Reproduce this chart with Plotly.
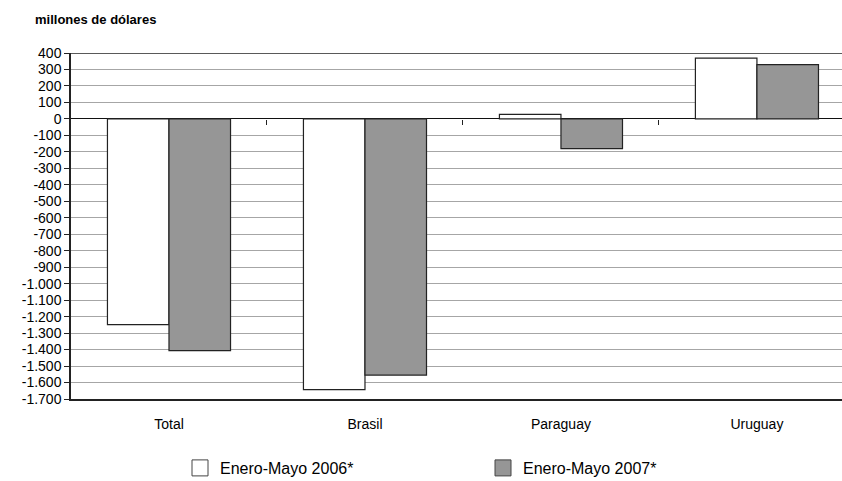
import plotly.graph_objects as go

categories = ["Total", "Brasil", "Paraguay", "Uruguay"]
serie_2006 = [-1248, -1643, 28, 369]
serie_2007 = [-1406, -1555, -180, 329]
series_names = ["Enero-Mayo 2006*", "Enero-Mayo 2007*"]
series_colors = ["#ffffff", "#969696"]
y_tickvals = list(range(400, -1701, -100))

def fmt(v):
    s = f"{abs(v):,}".replace(",", ".")
    return ("-" if v < 0 else "") + s

y_ticktext = [fmt(v) for v in y_tickvals]

FONT = "Liberation Sans, Arial, sans-serif"
EDGE = "#222222"

fig = go.Figure()
for vals, name, col in zip([serie_2006, serie_2007], series_names, series_colors):
    fig.add_trace(go.Bar(
        x=categories, y=vals, name=name, showlegend=False,
        marker=dict(color=col, line=dict(color=EDGE, width=1.2)),
    ))
# legend entries with large square swatches
for name, col in zip(series_names, series_colors):
    fig.add_trace(go.Scatter(
        x=[None], y=[None], mode="markers", name=name,
        marker=dict(symbol="square", size=22, color=col,
                    line=dict(color="#444444", width=1)),
    ))
# invisible helper trace for x-axis ticks on the zero line
fig.add_trace(go.Scatter(x=categories, y=[None] * 4, xaxis="x2", showlegend=False,
                         hoverinfo="skip"))

fig.update_layout(
    width=842, height=481,
    margin=dict(l=71, r=0, t=53, b=82),
    paper_bgcolor="#ffffff", plot_bgcolor="#ffffff",
    font=dict(family=FONT, size=13, color="#000000"),
    barmode="group", bargap=0.372, bargroupgap=0,
    xaxis=dict(
        range=[-0.5, 3.434], showgrid=False, zeroline=False, automargin=False,
        showline=True, linecolor=EDGE, linewidth=1.5,
        ticks="outside", ticklen=0, ticklabelstandoff=11,
        tickfont=dict(size=14, family=FONT),
    ),
    xaxis2=dict(
        range=[-0.5, 3.434], overlaying="x", anchor="free",
        position=1700 / 2100, side="bottom", automargin=False,
        showgrid=False, zeroline=False, showline=False,
        showticklabels=False, tickmode="array",
        tickvals=[0.5, 1.5, 2.5], ticks="outside", ticklen=5,
        tickcolor=EDGE, tickwidth=1,
    ),
    yaxis=dict(
        range=[-1700, 400], tickvals=y_tickvals, ticktext=y_ticktext,
        automargin=False,
        showgrid=True, gridcolor="#a6a6a6", gridwidth=1,
        zeroline=True, zerolinecolor="#111111", zerolinewidth=1.3,
        showline=True, linecolor=EDGE, linewidth=1.5,
        ticks="outside", ticklen=5, tickcolor=EDGE,
        tickfont=dict(size=14, family=FONT),
    ),
    legend=dict(
        orientation="h", xref="container", yref="container",
        x=180 / 842, xanchor="left",
        y=1 - 468 / 481, yanchor="middle",
        entrywidth=258, entrywidthmode="pixels",
        font=dict(size=16, family=FONT),
        bgcolor="rgba(0,0,0,0)", tracegroupgap=0,
    ),
    showlegend=True,
)

fig.add_shape(type="line", xref="paper", yref="y", x0=0, x1=1, y0=400, y1=400,
              line=dict(color=EDGE, width=1.3))

fig.add_annotation(
    text="<b>millones de dólares</b>", xref="paper", yref="paper",
    x=(33 - 71) / 771, y=1 + (53 - 20) / 346, xanchor="left", yanchor="middle",
    showarrow=False, font=dict(size=13, family=FONT, color="#000000"),
)

fig.write_html("out.html", config={"displayModeBar": False},
               post_script="document.body.style.margin='0';")
